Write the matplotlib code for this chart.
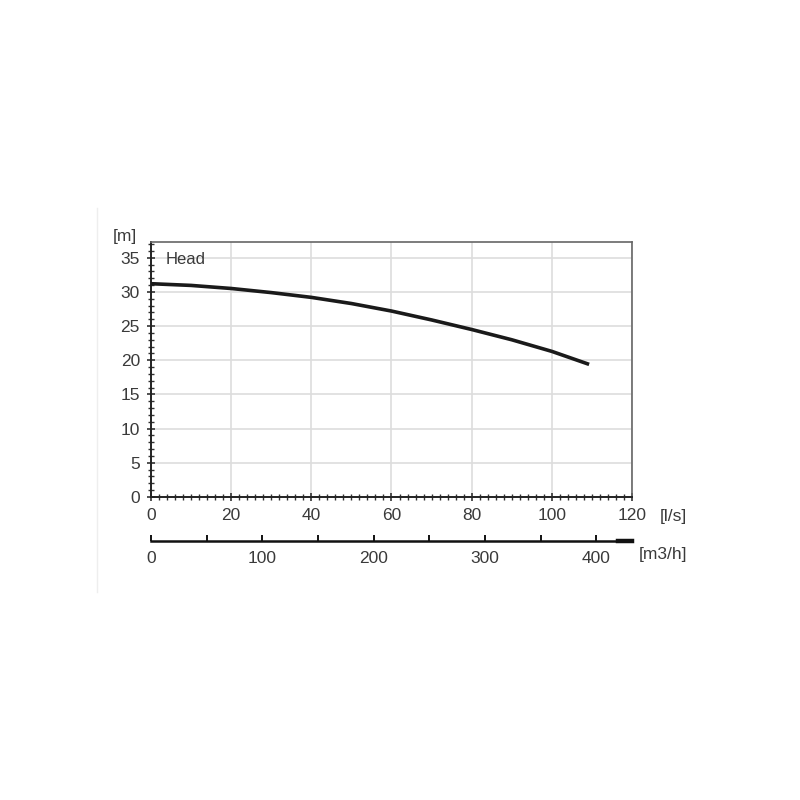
import matplotlib.pyplot as plt
from matplotlib.ticker import MultipleLocator

# Pump head curve
flow_ls = [0, 10, 20, 30, 40, 50, 60, 70, 80, 90, 100, 109.3]
head_m = [31.2, 30.95, 30.5, 29.9, 29.2, 28.3, 27.2, 25.9, 24.5, 23.0, 21.3, 19.4]

x_ticks = [0, 20, 40, 60, 80, 100, 120]
y_ticks = [0, 5, 10, 15, 20, 25, 30, 35]
m3h_ticks = [0, 100, 200, 300, 400]

plt.rcParams["font.family"] = ["Liberation Sans", "DejaVu Sans"]
fs = 12.5
txt_col = "#3a3a3a"
tick_col = "#333333"

fig = plt.figure(figsize=(8, 8), dpi=100)
fig.patch.set_facecolor("white")

ax = fig.add_axes([0.18875, 0.37875, 0.60125, 0.31875])
ax.plot(flow_ls, head_m, color="#1a1a1a", linewidth=2.6, solid_capstyle="butt", zorder=3)

ax.set_xlim(0, 120)
ax.set_ylim(0, 37.3)
ax.set_xticks(x_ticks)
ax.set_yticks(y_ticks)
ax.xaxis.set_minor_locator(MultipleLocator(2))
ax.yaxis.set_minor_locator(MultipleLocator(1))
ax.grid(True, which="major", color="#dddddd", linewidth=1.2, zorder=0)
ax.tick_params(which="major", direction="inout", length=6, width=1.2,
               color=tick_col, labelsize=fs, labelcolor=txt_col, pad=5)
ax.tick_params(which="minor", direction="inout", length=4, width=1.0, color=tick_col)

for side in ["left", "bottom"]:
    ax.spines[side].set_color("#222222")
    ax.spines[side].set_linewidth(1.4)
for side in ["top", "right"]:
    ax.spines[side].set_color("#666666")
    ax.spines[side].set_linewidth(1.2)

ax.text(0.03, 0.93, "Head", transform=ax.transAxes, fontsize=fs - 0.5,
        color=txt_col, ha="left", va="center")
fig.text(125 / 800, 1 - 237 / 800, "[m]", fontsize=fs, color=txt_col,
         ha="center", va="center")
fig.text(673 / 800, 1 - 517 / 800, "[l/s]", fontsize=fs, color=txt_col,
         ha="center", va="center")
fig.text(663 / 800, 1 - 554 / 800, "[m3/h]", fontsize=fs, color=txt_col,
         ha="center", va="center")

# second flow scale in m3/h
ax2 = fig.add_axes([0.18875, 0.32375, 0.60125, 0.0001])
ax2.set_xlim(0, 120 * 3.6)
ax2.set_xticks(m3h_ticks)
ax2.xaxis.set_minor_locator(MultipleLocator(50))
ax2.set_yticks([])
for side in ["left", "right", "top"]:
    ax2.spines[side].set_visible(False)
ax2.spines["bottom"].set_color("#111111")
ax2.spines["bottom"].set_linewidth(1.8)
ax2.tick_params(which="both", direction="in", length=4, width=1.4, color="#111111",
                labelsize=fs, labelcolor=txt_col, pad=7)
ax2.plot([0.97, 1.0], [0, 0], transform=ax2.transAxes, color="#111111",
         linewidth=3.2, clip_on=False)

# faint vertical line at the left like the source scan
fig.add_artist(plt.Line2D([0.121, 0.121], [0.26, 0.74], color="#eeeeee", linewidth=1))

fig.savefig("out.png", dpi=100, facecolor="white")
